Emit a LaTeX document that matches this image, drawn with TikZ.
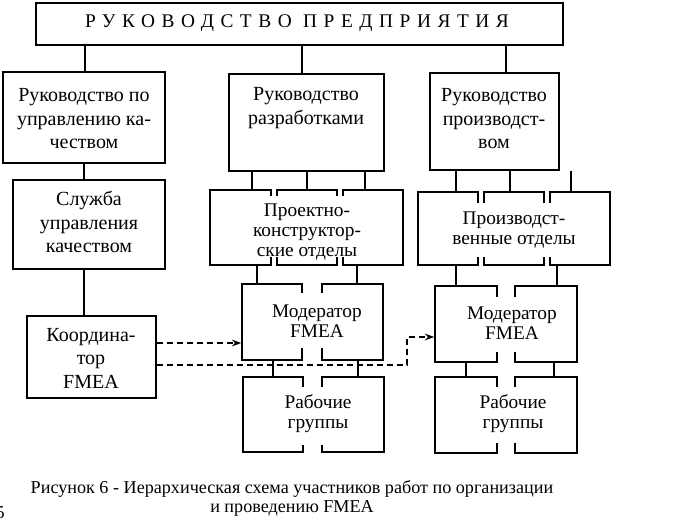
\documentclass[tikz,border=0pt]{standalone}
\usepackage{fontspec}
\setmainfont{Liberation Serif}
\newfontfamily\titlefont[LetterSpace=34]{Liberation Serif}
\usetikzlibrary{fit,arrows.meta}

\newcommand{\normaltext}{\fontsize{15}{17.6}\selectfont}
\newcommand{\tighttext}{\fontsize{14.5}{14.8}\selectfont}
\newcommand{\captiontext}{\fontsize{13.6}{14.3}\selectfont}

\tikzset{
  box/.style={draw, line width=1.1pt, inner sep=0pt},
  cover/.style={fill=white, inner sep=0pt},
  txt/.style={inner sep=0pt, align=center, font=\normaltext},
  tighttxt/.style={inner sep=0pt, align=center, font=\tighttext},
  link/.style={line width=1.1pt},
  fmea/.style={line width=1.1pt, dash pattern=on 4.5pt off 3pt, -{Stealth[length=7pt,width=5pt]}},
}

\begin{document}
\begin{tikzpicture}[x=0.75pt,y=0.75pt,yscale=-1,xscale=1]
\useasboundingbox (0,0) rectangle (676,522);

% top level
\node[box, fit={(36,3) (563,45)}] (top) {};
\node[txt, font=\titlefont\fontsize{14.5}{16}\selectfont] (toptext) at (297,23) {РУКОВОДСТВО ПРЕДПРИЯТИЯ};

% quality branch
\node[box, fit={(3,72) (165,163)}] (quality) {};
\node[txt] (qualitytext) at (84,119) {Руководство по\\управлению ка-\\чеством};
\node[box, fit={(13,180) (165,269)}] (service) {};
\node[txt] (servicetext) at (89,222) {Служба\\управления\\качеством};
\node[box, fit={(27,316) (156,398)}] (coord) {};
\node[txt] (coordtext) at (91,358) {Координа-\\тор\\FMEA};

% development branch
\node[box, fit={(229,74) (384,171)}] (devhead) {};
\node[txt] (devheadtext) at (306,108) {Руководство\\разработками};
\node[box, fit={(210,190) (271,265)}] (devdeptA) {};
\node[box, fit={(277,190) (337,265)}] (devdeptB) {};
\node[box, fit={(343,190) (403,265)}] (devdeptC) {};
\node[cover, fit={(262,196) (352,257)}] (devdept) {};
\node[tighttxt] (devdepttext) at (307,232) {Проектно-\\конструктор-\\ские отделы};
\node[box, fit={(242,284) (302,360)}] (devmodA) {};
\node[box, fit={(322,284) (383,360)}] (devmodB) {};
\node[cover, fit={(272,293) (362,348)}] (devmod) {};
\node[tighttxt] (devmodtext) at (317,321) {Модератор\\FMEA};
\node[box, fit={(243,377) (303,452)}] (devgrpA) {};
\node[box, fit={(322,377) (384,452)}] (devgrpB) {};
\node[cover, fit={(290,387) (346,445)}] (devgrp) {};
\node[tighttxt] (devgrptext) at (318,414) {Рабочие\\группы};

% production branch
\node[box, fit={(430,73) (559,170)}] (prodhead) {};
\node[txt] (prodheadtext) at (494,119) {Руководство\\производст-\\вом};
\node[box, fit={(418,192) (478,265)}] (proddeptA) {};
\node[box, fit={(484,192) (544,265)}] (proddeptB) {};
\node[box, fit={(550,192) (610,265)}] (proddeptC) {};
\node[cover, fit={(470,203) (558,257)}] (proddept) {};
\node[tighttxt] (proddepttext) at (514,230) {Производст-\\венные отделы};
\node[box, fit={(435,286) (497,362)}] (prodmodA) {};
\node[box, fit={(515,286) (577,362)}] (prodmodB) {};
\node[cover, fit={(470,297) (555,352)}] (prodmod) {};
\node[tighttxt] (prodmodtext) at (512,323) {Модератор\\FMEA};
\node[box, fit={(435,377) (497,453)}] (prodgrpA) {};
\node[box, fit={(515,377) (577,453)}] (prodgrpB) {};
\node[cover, fit={(482,387) (544,443)}] (prodgrp) {};
\node[tighttxt] (prodgrptext) at (513,414) {Рабочие\\группы};

% links
\draw[link] (top.south -| 85,0) -- (quality.north -| 85,0);
\draw[link] (top.south -| 302,0) -- (devhead.north -| 302,0);
\draw[link] (top.south -| 506,0) -- (prodhead.north -| 506,0);
\draw[link] (quality.south -| 84,0) -- (service.north -| 84,0);
\draw[link] (service.south -| 84,0) -- (coord.north -| 84,0);

\draw[link] (devhead.south -| 252,0) -- (devdeptA.north -| 252,0);
\draw[link] (devhead.south -| 307,0) -- (devdeptB.north -| 307,0);
\draw[link] (devhead.south -| 365,0) -- (devdeptC.north -| 365,0);
\draw[link] (devdeptA.south -| 257,0) -- (devmodA.north -| 257,0);
\draw[link] (devdeptC.south -| 357,0) -- (devmodB.north -| 357,0);
\draw[link] (devmodA.south -| 273,0) -- (devgrpA.north -| 273,0);
\draw[link] (devmodB.south -| 358,0) -- (devgrpB.north -| 358,0);

\draw[link] (prodhead.south -| 456,0) -- (proddeptA.north -| 456,0);
\draw[link] (prodhead.south -| 510,0) -- (proddeptB.north -| 510,0);
\draw[link] (prodhead.south -| 571,0) -- (proddeptC.north -| 571,0);
\draw[link] (proddeptA.south -| 456,0) -- (prodmodA.north -| 456,0);
\draw[link] (proddeptC.south -| 557,0) -- (prodmodB.north -| 557,0);
\draw[link] (prodmodA.south -| 466,0) -- (prodgrpA.north -| 466,0);
\draw[link] (prodmodB.south -| 554,0) -- (prodgrpB.north -| 554,0);

% coordinator to moderators
\coordinate (detour) at (407,337);
\draw[fmea] (coord.east |- 0,343) -- (devmodA.west |- 0,343);
\draw[fmea] (coord.east |- 0,365) -| (detour) -- (prodmodA.west |- detour);

% caption
\node[align=center, inner sep=0pt, font=\captiontext] (caption) at (292,498) {Рисунок 6 - Иерархическая схема участников работ по организации\\и проведению FMEA};
\node[anchor=east, inner sep=0pt, font=\captiontext] (pagenum) at (5,513) {5};

\end{tikzpicture}
\end{document}
